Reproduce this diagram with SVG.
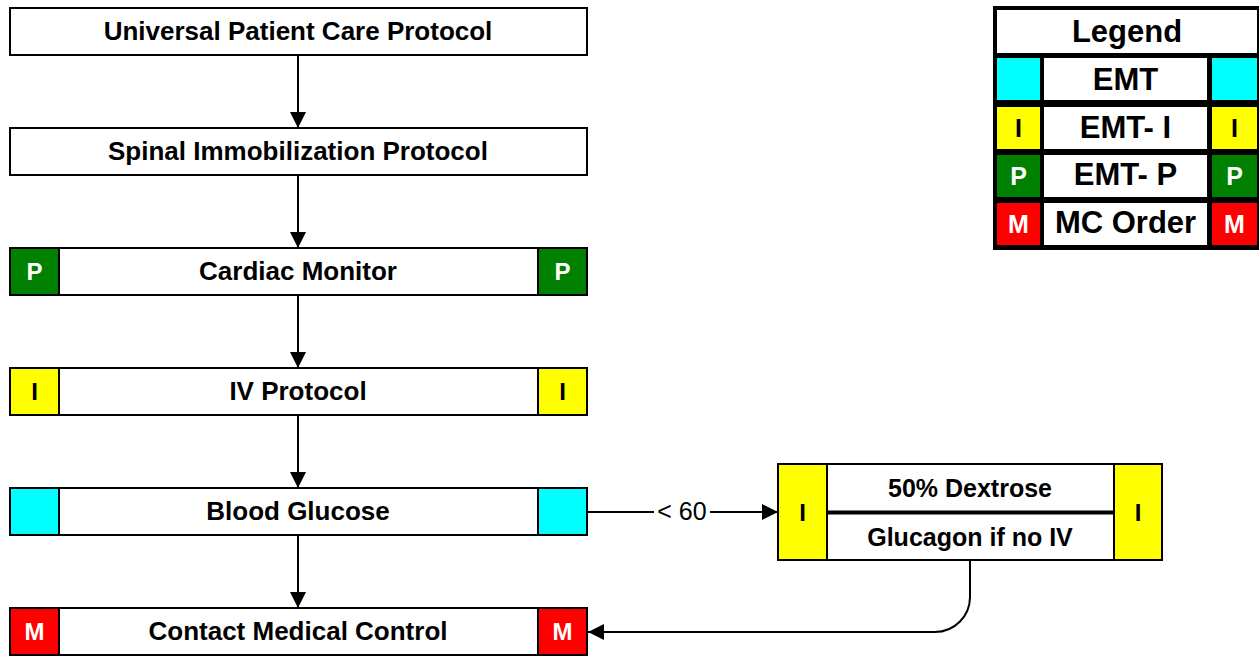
<svg xmlns="http://www.w3.org/2000/svg" width="1259" height="656" viewBox="0 0 1259 656">
<defs>
<style>
.box{fill:#fff;stroke:#000;stroke-width:2}
.sq{stroke:#000;stroke-width:2}
.c{fill:#00ffff}.y{fill:#ffff00}.g{fill:#008000}.r{fill:#ff0000}
.t{font-family:"Liberation Sans",Arial,sans-serif;font-weight:bold;font-size:26px;text-anchor:middle;fill:#000}
.s{font-family:"Liberation Sans",Arial,sans-serif;font-weight:bold;font-size:24px;text-anchor:middle}
.w{fill:#fff}.k{fill:#000}
.lt{font-family:"Liberation Sans",Arial,sans-serif;font-weight:bold;font-size:31px;text-anchor:middle;fill:#000}
.ls{font-family:"Liberation Sans",Arial,sans-serif;font-weight:bold;font-size:25px;text-anchor:middle}
.lbl{font-family:"Liberation Sans",Arial,sans-serif;font-size:25px;text-anchor:middle;fill:#000}
.line{fill:none;stroke:#000;stroke-width:2}
</style>
<marker id="arr" viewBox="0 0 16 16" refX="16" refY="8" markerWidth="16" markerHeight="16" markerUnits="userSpaceOnUse" orient="auto">
<path d="M0,0 L16,8 L0,16 Z" fill="#000"/>
</marker>
</defs>

<g id="connectors">
<path class="line" d="M298,55 V128" marker-end="url(#arr)"/>
<path class="line" d="M298,175 V248" marker-end="url(#arr)"/>
<path class="line" d="M298,295 V368" marker-end="url(#arr)"/>
<path class="line" d="M298,415 V488" marker-end="url(#arr)"/>
<path class="line" d="M298,535 V608" marker-end="url(#arr)"/>
<path class="line" d="M587,512 H778" marker-end="url(#arr)"/>
<rect x="654" y="498" width="56" height="26" fill="#fff"/>
<text class="lbl" x="682" y="520">&lt; 60</text>
<path class="line" d="M970,560 V597 A35,35 0 0 1 935,632 H588" marker-end="url(#arr)"/>
</g>

<g id="node-universal">
<rect class="box" x="10" y="8" width="577" height="47"/>
<text class="t" x="298" y="40">Universal Patient Care Protocol</text>
</g>

<g id="node-spinal">
<rect class="box" x="10" y="128" width="577" height="47"/>
<text class="t" x="298" y="160">Spinal Immobilization Protocol</text>
</g>

<g id="node-cardiac">
<rect class="box" x="10" y="248" width="577" height="47"/>
<rect class="sq g" x="10" y="248" width="49" height="47"/>
<rect class="sq g" x="538" y="248" width="49" height="47"/>
<text class="s w" x="34.5" y="280">P</text>
<text class="s w" x="562.5" y="280">P</text>
<text class="t" x="298" y="280">Cardiac Monitor</text>
</g>

<g id="node-iv">
<rect class="box" x="10" y="368" width="577" height="47"/>
<rect class="sq y" x="10" y="368" width="49" height="47"/>
<rect class="sq y" x="538" y="368" width="49" height="47"/>
<text class="s k" x="34.5" y="400">I</text>
<text class="s k" x="562.5" y="400">I</text>
<text class="t" x="298" y="400">IV Protocol</text>
</g>

<g id="node-glucose">
<rect class="box" x="10" y="488" width="577" height="47"/>
<rect class="sq c" x="10" y="488" width="49" height="47"/>
<rect class="sq c" x="538" y="488" width="49" height="47"/>
<text class="t" x="298" y="520">Blood Glucose</text>
</g>

<g id="node-medcontrol">
<rect class="box" x="10" y="608" width="577" height="47"/>
<rect class="sq r" x="10" y="608" width="49" height="47"/>
<rect class="sq r" x="538" y="608" width="49" height="47"/>
<text class="s w" x="34.5" y="640">M</text>
<text class="s w" x="562.5" y="640">M</text>
<text class="t" x="298" y="640">Contact Medical Control</text>
</g>

<g id="node-dextrose">
<rect class="box" x="778" y="464" width="384" height="96"/>
<rect class="sq y" x="778" y="464" width="49" height="96"/>
<rect class="sq y" x="1114" y="464" width="48" height="96"/>
<line x1="827" y1="512.5" x2="1114" y2="512.5" stroke="#000" stroke-width="4"/>
<text class="s k" x="802.5" y="521">I</text>
<text class="s k" x="1138" y="521">I</text>
<text class="t" x="970" y="497" style="font-size:25px">50% Dextrose</text>
<text class="t" x="970" y="546" style="font-size:25px">Glucagon if no IV</text>
</g>

<g id="legend">
<rect x="993" y="6" width="270" height="244" fill="#000"/>
<rect x="997" y="10" width="260" height="43" fill="#fff"/>
<text class="lt" x="1127" y="42">Legend</text>
<rect class="c" x="997" y="58" width="43" height="42"/>
<rect x="1044" y="58" width="163" height="42" fill="#fff"/>
<rect class="c" x="1212" y="58" width="45" height="42"/>
<text class="lt" x="1125.5" y="90">EMT</text>
<rect class="y" x="997" y="107" width="43" height="42"/>
<rect x="1044" y="107" width="163" height="42" fill="#fff"/>
<rect class="y" x="1212" y="107" width="45" height="42"/>
<text class="ls k" x="1018.5" y="137">I</text>
<text class="lt" x="1125.5" y="138">EMT- I</text>
<text class="ls k" x="1234.5" y="137">I</text>
<rect class="g" x="997" y="155" width="43" height="42"/>
<rect x="1044" y="155" width="163" height="42" fill="#fff"/>
<rect class="g" x="1212" y="155" width="45" height="42"/>
<text class="ls w" x="1018.5" y="185">P</text>
<text class="lt" x="1125.5" y="185">EMT- P</text>
<text class="ls w" x="1234.5" y="185">P</text>
<rect class="r" x="997" y="203" width="43" height="42"/>
<rect x="1044" y="203" width="163" height="42" fill="#fff"/>
<rect class="r" x="1212" y="203" width="45" height="42"/>
<text class="ls w" x="1018.5" y="233">M</text>
<text class="lt" x="1125.5" y="233">MC Order</text>
<text class="ls w" x="1234.5" y="233">M</text>
</g>
</svg>
